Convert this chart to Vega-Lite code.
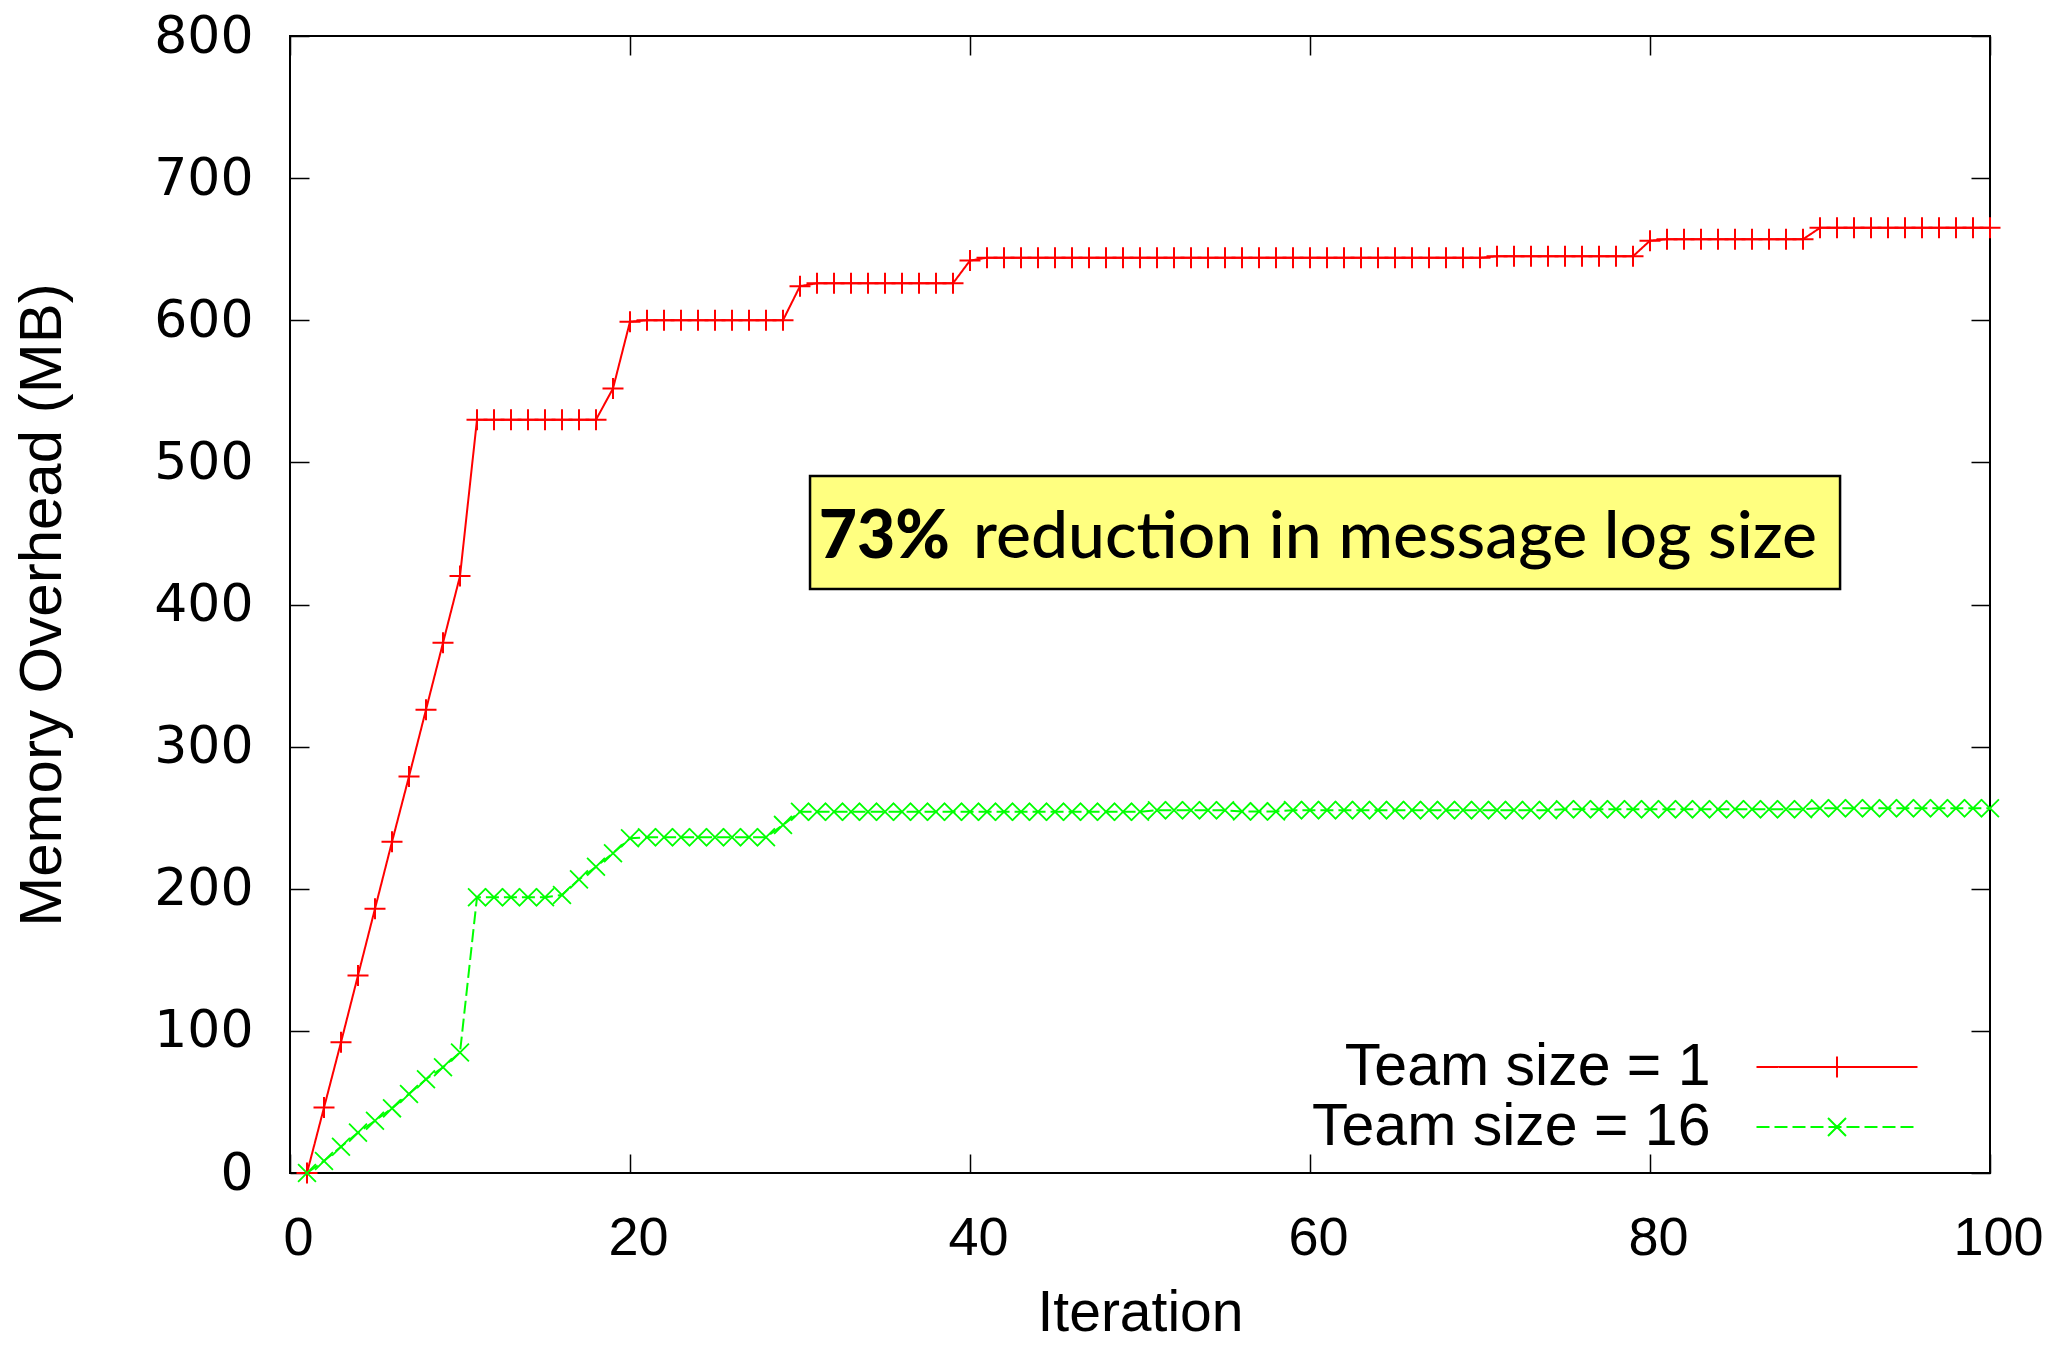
{
  "$schema": "https://vega.github.io/schema/vega-lite/v6.json",
  "width": 1700,
  "height": 1137,
  "autosize": {"type": "none"},
  "padding": {"left": 290, "top": 36, "right": 65, "bottom": 175},
  "background": "white",
  "config": {
    "view": {"stroke": "black", "strokeWidth": 2},
    "axis": {"grid": false, "domain": false, "tickColor": "black", "tickWidth": 1.5, "tickSize": -19, "labelFlush": false, "labelOverlap": false, "labelBound": false, "labelColor": "black", "titleColor": "black", "titleFontWeight": "normal"}
  },
  "datasets": {
    "main": [
      {"it":1,"mb":0,"s":"Team size = 1"},{"it":2,"mb":46,"s":"Team size = 1"},{"it":3,"mb":92,"s":"Team size = 1"},{"it":4,"mb":139,"s":"Team size = 1"},{"it":5,"mb":186,"s":"Team size = 1"},
      {"it":6,"mb":233,"s":"Team size = 1"},{"it":7,"mb":279,"s":"Team size = 1"},{"it":8,"mb":326,"s":"Team size = 1"},{"it":9,"mb":373,"s":"Team size = 1"},{"it":10,"mb":420,"s":"Team size = 1"},
      {"it":11,"mb":530,"s":"Team size = 1"},{"it":12,"mb":530,"s":"Team size = 1"},{"it":13,"mb":530,"s":"Team size = 1"},{"it":14,"mb":530,"s":"Team size = 1"},{"it":15,"mb":530,"s":"Team size = 1"},
      {"it":16,"mb":530,"s":"Team size = 1"},{"it":17,"mb":530,"s":"Team size = 1"},{"it":18,"mb":530,"s":"Team size = 1"},{"it":19,"mb":552,"s":"Team size = 1"},{"it":20,"mb":599,"s":"Team size = 1"},
      {"it":21,"mb":600,"s":"Team size = 1"},{"it":22,"mb":600,"s":"Team size = 1"},{"it":23,"mb":600,"s":"Team size = 1"},{"it":24,"mb":600,"s":"Team size = 1"},{"it":25,"mb":600,"s":"Team size = 1"},
      {"it":26,"mb":600,"s":"Team size = 1"},{"it":27,"mb":600,"s":"Team size = 1"},{"it":28,"mb":600,"s":"Team size = 1"},{"it":29,"mb":600,"s":"Team size = 1"},{"it":30,"mb":624,"s":"Team size = 1"},
      {"it":31,"mb":626,"s":"Team size = 1"},{"it":32,"mb":626,"s":"Team size = 1"},{"it":33,"mb":626,"s":"Team size = 1"},{"it":34,"mb":626,"s":"Team size = 1"},{"it":35,"mb":626,"s":"Team size = 1"},
      {"it":36,"mb":626,"s":"Team size = 1"},{"it":37,"mb":626,"s":"Team size = 1"},{"it":38,"mb":626,"s":"Team size = 1"},{"it":39,"mb":626,"s":"Team size = 1"},{"it":40,"mb":642,"s":"Team size = 1"},
      {"it":41,"mb":644,"s":"Team size = 1"},{"it":42,"mb":644,"s":"Team size = 1"},{"it":43,"mb":644,"s":"Team size = 1"},{"it":44,"mb":644,"s":"Team size = 1"},{"it":45,"mb":644,"s":"Team size = 1"},
      {"it":46,"mb":644,"s":"Team size = 1"},{"it":47,"mb":644,"s":"Team size = 1"},{"it":48,"mb":644,"s":"Team size = 1"},{"it":49,"mb":644,"s":"Team size = 1"},{"it":50,"mb":644,"s":"Team size = 1"},
      {"it":51,"mb":644,"s":"Team size = 1"},{"it":52,"mb":644,"s":"Team size = 1"},{"it":53,"mb":644,"s":"Team size = 1"},{"it":54,"mb":644,"s":"Team size = 1"},{"it":55,"mb":644,"s":"Team size = 1"},
      {"it":56,"mb":644,"s":"Team size = 1"},{"it":57,"mb":644,"s":"Team size = 1"},{"it":58,"mb":644,"s":"Team size = 1"},{"it":59,"mb":644,"s":"Team size = 1"},{"it":60,"mb":644,"s":"Team size = 1"},
      {"it":61,"mb":644,"s":"Team size = 1"},{"it":62,"mb":644,"s":"Team size = 1"},{"it":63,"mb":644,"s":"Team size = 1"},{"it":64,"mb":644,"s":"Team size = 1"},{"it":65,"mb":644,"s":"Team size = 1"},
      {"it":66,"mb":644,"s":"Team size = 1"},{"it":67,"mb":644,"s":"Team size = 1"},{"it":68,"mb":644,"s":"Team size = 1"},{"it":69,"mb":644,"s":"Team size = 1"},{"it":70,"mb":644,"s":"Team size = 1"},
      {"it":71,"mb":645,"s":"Team size = 1"},{"it":72,"mb":645,"s":"Team size = 1"},{"it":73,"mb":645,"s":"Team size = 1"},{"it":74,"mb":645,"s":"Team size = 1"},{"it":75,"mb":645,"s":"Team size = 1"},
      {"it":76,"mb":645,"s":"Team size = 1"},{"it":77,"mb":645,"s":"Team size = 1"},{"it":78,"mb":645,"s":"Team size = 1"},{"it":79,"mb":645,"s":"Team size = 1"},{"it":80,"mb":656,"s":"Team size = 1"},
      {"it":81,"mb":657,"s":"Team size = 1"},{"it":82,"mb":657,"s":"Team size = 1"},{"it":83,"mb":657,"s":"Team size = 1"},{"it":84,"mb":657,"s":"Team size = 1"},{"it":85,"mb":657,"s":"Team size = 1"},
      {"it":86,"mb":657,"s":"Team size = 1"},{"it":87,"mb":657,"s":"Team size = 1"},{"it":88,"mb":657,"s":"Team size = 1"},{"it":89,"mb":657,"s":"Team size = 1"},{"it":90,"mb":665,"s":"Team size = 1"},
      {"it":91,"mb":665,"s":"Team size = 1"},{"it":92,"mb":665,"s":"Team size = 1"},{"it":93,"mb":665,"s":"Team size = 1"},{"it":94,"mb":665,"s":"Team size = 1"},{"it":95,"mb":665,"s":"Team size = 1"},
      {"it":96,"mb":665,"s":"Team size = 1"},{"it":97,"mb":665,"s":"Team size = 1"},{"it":98,"mb":665,"s":"Team size = 1"},{"it":99,"mb":665,"s":"Team size = 1"},{"it":100,"mb":665,"s":"Team size = 1"},

      {"it":1,"mb":0,"s":"Team size = 16"},{"it":2,"mb":8.4,"s":"Team size = 16"},{"it":3,"mb":18.5,"s":"Team size = 16"},{"it":4,"mb":28.4,"s":"Team size = 16"},{"it":5,"mb":36.8,"s":"Team size = 16"},
      {"it":6,"mb":45.5,"s":"Team size = 16"},{"it":7,"mb":55.6,"s":"Team size = 16"},{"it":8,"mb":66,"s":"Team size = 16"},{"it":9,"mb":74.4,"s":"Team size = 16"},{"it":10,"mb":84.8,"s":"Team size = 16"},
      {"it":11,"mb":194,"s":"Team size = 16"},{"it":12,"mb":194,"s":"Team size = 16"},{"it":13,"mb":194,"s":"Team size = 16"},{"it":14,"mb":194,"s":"Team size = 16"},{"it":15,"mb":194,"s":"Team size = 16"},
      {"it":16,"mb":195.6,"s":"Team size = 16"},{"it":17,"mb":206.6,"s":"Team size = 16"},{"it":18,"mb":215.5,"s":"Team size = 16"},{"it":19,"mb":225,"s":"Team size = 16"},{"it":20,"mb":235.5,"s":"Team size = 16"},
      {"it":21,"mb":236.2,"s":"Team size = 16"},{"it":22,"mb":236.2,"s":"Team size = 16"},{"it":23,"mb":236.2,"s":"Team size = 16"},{"it":24,"mb":236.2,"s":"Team size = 16"},{"it":25,"mb":236.2,"s":"Team size = 16"},
      {"it":26,"mb":236.2,"s":"Team size = 16"},{"it":27,"mb":236.2,"s":"Team size = 16"},{"it":28,"mb":236.2,"s":"Team size = 16"},{"it":29,"mb":244.9,"s":"Team size = 16"},{"it":30,"mb":254.2,"s":"Team size = 16"},
      {"it":31,"mb":254.2,"s":"Team size = 16"},{"it":32,"mb":254.2,"s":"Team size = 16"},{"it":33,"mb":254.2,"s":"Team size = 16"},{"it":34,"mb":254.2,"s":"Team size = 16"},{"it":35,"mb":254.2,"s":"Team size = 16"},
      {"it":36,"mb":254.2,"s":"Team size = 16"},{"it":37,"mb":254.2,"s":"Team size = 16"},{"it":38,"mb":254.2,"s":"Team size = 16"},{"it":39,"mb":254.2,"s":"Team size = 16"},{"it":40,"mb":254.2,"s":"Team size = 16"},
      {"it":41,"mb":254.2,"s":"Team size = 16"},{"it":42,"mb":254.2,"s":"Team size = 16"},{"it":43,"mb":254.2,"s":"Team size = 16"},{"it":44,"mb":254.2,"s":"Team size = 16"},{"it":45,"mb":254.2,"s":"Team size = 16"},
      {"it":46,"mb":254.2,"s":"Team size = 16"},{"it":47,"mb":254.2,"s":"Team size = 16"},{"it":48,"mb":254.2,"s":"Team size = 16"},{"it":49,"mb":254.2,"s":"Team size = 16"},{"it":50,"mb":254.2,"s":"Team size = 16"},
      {"it":51,"mb":255.2,"s":"Team size = 16"},{"it":52,"mb":255.2,"s":"Team size = 16"},{"it":53,"mb":255.2,"s":"Team size = 16"},{"it":54,"mb":255.2,"s":"Team size = 16"},{"it":55,"mb":255.2,"s":"Team size = 16"},
      {"it":56,"mb":254.4,"s":"Team size = 16"},{"it":57,"mb":254.4,"s":"Team size = 16"},{"it":58,"mb":254.4,"s":"Team size = 16"},{"it":59,"mb":255.3,"s":"Team size = 16"},{"it":60,"mb":255.3,"s":"Team size = 16"},
      {"it":61,"mb":255.3,"s":"Team size = 16"},{"it":62,"mb":255.3,"s":"Team size = 16"},{"it":63,"mb":255.3,"s":"Team size = 16"},{"it":64,"mb":255.3,"s":"Team size = 16"},{"it":65,"mb":255.3,"s":"Team size = 16"},
      {"it":66,"mb":255.3,"s":"Team size = 16"},{"it":67,"mb":255.3,"s":"Team size = 16"},{"it":68,"mb":255.3,"s":"Team size = 16"},{"it":69,"mb":255.3,"s":"Team size = 16"},{"it":70,"mb":255.3,"s":"Team size = 16"},
      {"it":71,"mb":255.3,"s":"Team size = 16"},{"it":72,"mb":255.3,"s":"Team size = 16"},{"it":73,"mb":255.3,"s":"Team size = 16"},{"it":74,"mb":255.3,"s":"Team size = 16"},{"it":75,"mb":255.9,"s":"Team size = 16"},
      {"it":76,"mb":255.9,"s":"Team size = 16"},{"it":77,"mb":255.9,"s":"Team size = 16"},{"it":78,"mb":255.9,"s":"Team size = 16"},{"it":79,"mb":255.9,"s":"Team size = 16"},{"it":80,"mb":255.9,"s":"Team size = 16"},
      {"it":81,"mb":255.9,"s":"Team size = 16"},{"it":82,"mb":255.9,"s":"Team size = 16"},{"it":83,"mb":255.9,"s":"Team size = 16"},{"it":84,"mb":255.9,"s":"Team size = 16"},{"it":85,"mb":255.9,"s":"Team size = 16"},
      {"it":86,"mb":255.9,"s":"Team size = 16"},{"it":87,"mb":255.9,"s":"Team size = 16"},{"it":88,"mb":255.9,"s":"Team size = 16"},{"it":89,"mb":255.9,"s":"Team size = 16"},{"it":90,"mb":256.6,"s":"Team size = 16"},
      {"it":91,"mb":256.6,"s":"Team size = 16"},{"it":92,"mb":256.6,"s":"Team size = 16"},{"it":93,"mb":256.6,"s":"Team size = 16"},{"it":94,"mb":256.6,"s":"Team size = 16"},{"it":95,"mb":256.6,"s":"Team size = 16"},
      {"it":96,"mb":256.6,"s":"Team size = 16"},{"it":97,"mb":256.6,"s":"Team size = 16"},{"it":98,"mb":256.6,"s":"Team size = 16"},{"it":99,"mb":256.6,"s":"Team size = 16"},{"it":100,"mb":256.6,"s":"Team size = 16"}
    ]
  },
  "resolve": {"axis": {"x": "independent", "y": "independent"}},
  "layer": [
    {
      "data": {"name": "main"},
      "mark": {"type": "line", "strokeWidth": 2},
      "encoding": {
        "x": {"field": "it", "type": "quantitative", "scale": {"domain": [0, 100], "nice": false, "zero": false},
          "axis": {"orient": "bottom", "values": [0, 20, 40, 60, 80, 100], "labelFont": "Liberation Sans", "labelFontSize": 54, "labelPadding": 57, "labelOffset": 8, "title": "Iteration", "titleFont": "Liberation Sans", "titleFontSize": 57, "titlePadding": 20}},
        "y": {"field": "mb", "type": "quantitative", "scale": {"domain": [0, 800], "nice": false, "zero": false},
          "axis": {"orient": "left", "values": [0, 100, 200, 300, 400, 500, 600, 700, 800], "labelFont": "DejaVu Sans", "labelFontSize": 52, "labelPadding": 56, "title": "Memory Overhead (MB)", "titleFont": "Liberation Sans", "titleFontSize": 60, "titlePadding": 80}},
        "color": {"field": "s", "type": "nominal",
          "scale": {"domain": ["Team size = 1", "Team size = 16"], "range": ["#ff0000", "#00ff00"]},
          "legend": {
            "title": null, "orient": "bottom-right", "offset": 16, "padding": 0,
            "labelFont": "Liberation Sans", "labelFontSize": 59, "labelColor": "black", "labelAlign": "right", "labelOffset": -156.5, "labelLimit": 800,
            "symbolSize": 3364, "symbolStrokeWidth": 2, "symbolType": "M-2.776,0H2.776", "rowPadding": -1,
            "encode": {"symbols": {"update": {
              "shape": {"signal": "datum.value === 'Team size = 1' ? 'M-2.776,0H2.776M0,-0.362V0.362M4.57,0' : 'M-2.776,0H2.776M0,0L0.31,0.31M0,0L-0.31,-0.31M0,0L0.31,-0.31M0,0L-0.31,0.31M4.57,0'"},
              "strokeDash": {"signal": "datum.value === 'Team size = 16' ? [13, 5] : [1, 0]"}
            }}}
          }},
        "strokeDash": {"field": "s", "type": "nominal", "scale": {"domain": ["Team size = 1", "Team size = 16"], "range": [[1, 0], [13, 5]]}, "legend": null}
      }
    },
    {
      "data": {"name": "main"},
      "transform": [{"filter": "datum.s === 'Team size = 1'"}],
      "mark": {"type": "point", "filled": false, "strokeWidth": 2, "size": 441, "opacity": 1, "color": "#ff0000", "shape": "M-1,0H1M0,-1V1"},
      "encoding": {
        "x": {"field": "it", "type": "quantitative", "axis": null},
        "y": {"field": "mb", "type": "quantitative", "axis": null}
      }
    },
    {
      "data": {"name": "main"},
      "transform": [{"filter": "datum.s === 'Team size = 16'"}],
      "mark": {"type": "point", "filled": false, "strokeWidth": 1.8, "size": 441, "opacity": 1, "color": "#00ff00", "shape": "M-0.85,-0.85L0.85,0.85M-0.85,0.85L0.85,-0.85"},
      "encoding": {
        "x": {"field": "it", "type": "quantitative", "axis": {"orient": "top", "labels": false, "values": [0, 20, 40, 60, 80, 100], "title": null}},
        "y": {"field": "mb", "type": "quantitative", "axis": {"orient": "right", "labels": false, "values": [0, 100, 200, 300, 400, 500, 600, 700, 800], "title": null}}
      }
    },
    {
      "data": {"values": [{"box": "annotation"}]},
      "mark": {"type": "rect", "fill": "#ffff80", "stroke": "black", "strokeWidth": 2.5},
      "encoding": {
        "x": {"datum": 30.59, "type": "quantitative", "axis": null},
        "x2": {"datum": 91.18},
        "y": {"datum": 490.4, "type": "quantitative", "axis": null},
        "y2": {"datum": 410.9}
      }
    },
    {
      "data": {"values": [{"label": "73%"}]},
      "mark": {"type": "text", "font": "Lato", "fontSize": 66, "fontWeight": 900, "align": "right", "baseline": "alphabetic", "color": "black"},
      "encoding": {
        "x": {"datum": 38.82, "type": "quantitative", "axis": null},
        "y": {"datum": 432.7, "type": "quantitative", "axis": null},
        "text": {"field": "label"}
      }
    },
    {
      "data": {"values": [{"label": "reduction in message log size"}]},
      "mark": {"type": "text", "font": "Lato", "fontSize": 66, "fontWeight": 500, "align": "left", "baseline": "alphabetic", "color": "black"},
      "encoding": {
        "x": {"datum": 40.18, "type": "quantitative", "axis": null},
        "y": {"datum": 432.7, "type": "quantitative", "axis": null},
        "text": {"field": "label"}
      }
    }
  ]
}
